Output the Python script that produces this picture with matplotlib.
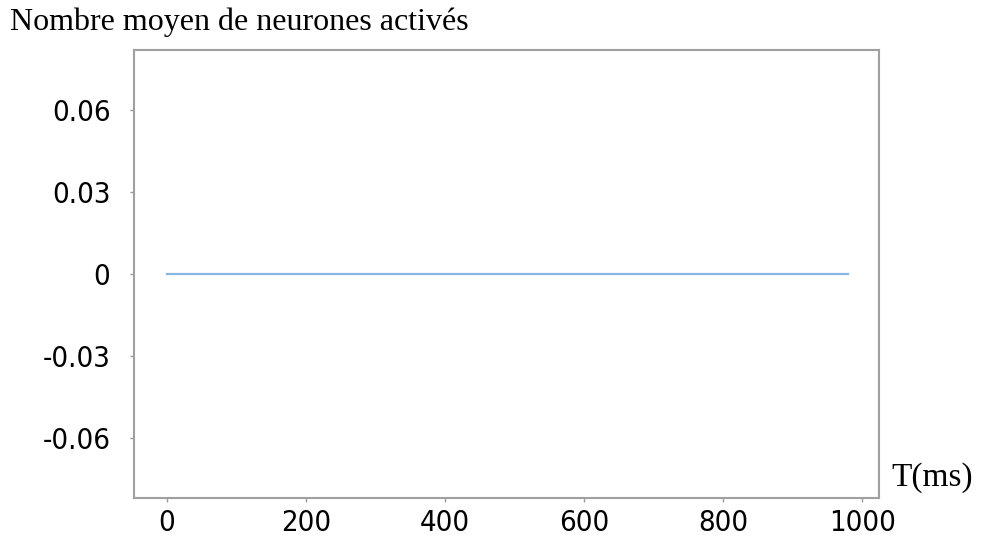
import matplotlib.pyplot as plt

# mean number of activated neurons over time (flat at zero)
t_ms = [0, 980]
mean_active = [0, 0]

x_ticks = [0, 200, 400, 600, 800, 1000]
y_ticks = [-0.06, -0.03, 0, 0.03, 0.06]
y_labels = ['-0.06', '-0.03', '0', '0.03', '0.06']

fig = plt.figure(figsize=(9.81, 5.41), dpi=100)
ax = fig.add_axes([134 / 981, 1 - 498 / 541, (879 - 134) / 981, (498 - 50) / 541])

ax.plot(t_ms, mean_active, color='#86b6e2', lw=1.6)

ax.set_xlim(-47, 1024)
ax.set_ylim(-0.082, 0.082)
ax.set_xticks(x_ticks)
ax.set_yticks(y_ticks)
ax.set_yticklabels(y_labels)

for lab in ax.get_xticklabels() + ax.get_yticklabels():
    lab.set_family('DejaVu Sans')
    lab.set_stretch('condensed')
    lab.set_fontsize(21)
ax.tick_params(direction='out', length=3, width=1, color='#999999', pad=14)
ax.tick_params(axis='x', pad=5)

for s in ax.spines.values():
    s.set_color('#a0a0a0')
    s.set_linewidth(1.5)

fig.text(10 / 981, 1 - 22 / 541, 'Nombre moyen de neurones activés',
         family='Liberation Serif', fontsize=23, va='center', ha='left')
fig.text(891 / 981, 1 - 478 / 541, 'T(ms)',
         family='Liberation Serif', fontsize=24, va='center', ha='left')

fig.savefig('out.png', dpi=100)
